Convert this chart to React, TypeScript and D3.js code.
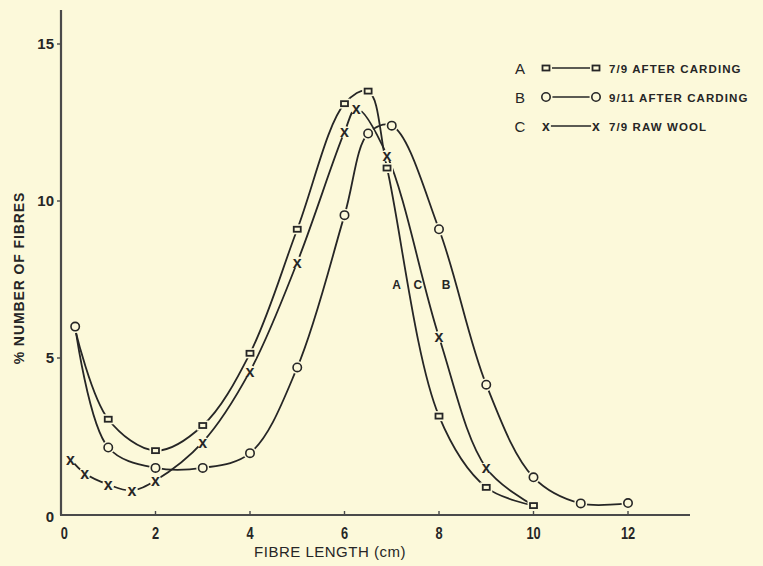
import React, { useEffect, useRef } from 'react';
import * as d3 from 'd3';

// A: 7/9 after carding (squares)
const aX = [0.3, 1, 2, 3, 4, 5, 6, 6.5, 6.9, 8, 9, 10];
const aY = [5.9, 3.05, 2.05, 2.85, 5.15, 9.1, 13.1, 13.5, 11.05, 3.15, 0.88, 0.3];
const aMark = [false, true, true, true, true, true, true, true, true, true, true, true];

// B: 9/11 after carding (circles)
const bX = [0.3, 1, 2, 3, 4, 5, 6, 6.5, 7, 8, 9, 10, 11, 12];
const bY = [6.0, 2.15, 1.5, 1.5, 1.97, 4.7, 9.55, 12.15, 12.4, 9.1, 4.15, 1.2, 0.37, 0.38];

// C: 7/9 raw wool (crosses)
const cX = [0.2, 0.5, 1, 1.5, 2, 3, 4, 5, 6, 6.25, 6.9, 8, 9, 10];
const cY = [1.78, 1.33, 0.97, 0.78, 1.1, 2.32, 4.58, 8.05, 12.2, 12.95, 11.45, 5.67, 1.5, 0.3];
const cMark = [true, true, true, true, true, true, true, true, true, true, true, true, true, false];

const xTicks = [0, 2, 4, 6, 8, 10, 12];
const yTicks = [0, 5, 10, 15];

const legendKeys = ['A', 'B', 'C'];
const legendLabels = ['7/9 AFTER CARDING', '9/11 AFTER CARDING', '7/9 RAW WOOL'];
const legendMarks = ['square', 'circle', 'cross'];

const curveLetters = ['A', 'C', 'B'];
const curveLetterX = [7.1, 7.55, 8.15];
const curveLetterY = [7.2, 7.2, 7.2];

const BG = '#fcf9da';
const INK = '#262626';

export default function App() {
  const ref = useRef<SVGSVGElement>(null);

  useEffect(() => {
    const svg = d3.select(ref.current);
    svg.selectAll('*').remove();

    const x = d3.scaleLinear().domain([0, 12]).range([61, 628]);
    const y = d3.scaleLinear().domain([0, 15]).range([515, 44]);

    svg.append('rect').attr('width', 763).attr('height', 566).attr('fill', BG);

    // axes
    svg.append('line')
      .attr('x1', x(0)).attr('x2', x(0)).attr('y1', 10).attr('y2', y(0))
      .attr('stroke', '#4a4a4a').attr('stroke-width', 2.2);
    svg.append('line')
      .attr('x1', x(0) - 1).attr('x2', 690).attr('y1', y(0)).attr('y2', y(0))
      .attr('stroke', '#4a4a4a').attr('stroke-width', 2.2);

    svg.selectAll('.xt').data(xTicks.slice(1)).enter().append('line')
      .attr('x1', d => x(d)).attr('x2', d => x(d))
      .attr('y1', y(0)).attr('y2', y(0) - 4)
      .attr('stroke', '#4a4a4a').attr('stroke-width', 1.4);
    svg.selectAll('.yt').data(yTicks.slice(1)).enter().append('line')
      .attr('x1', x(0)).attr('x2', x(0) - 4)
      .attr('y1', d => y(d)).attr('y2', d => y(d))
      .attr('stroke', '#4a4a4a').attr('stroke-width', 1.4);

    const tickFont = "'Liberation Sans', Arial, sans-serif";
    svg.selectAll('.xl').data(xTicks).enter().append('text')
      .attr('x', d => x(d) + (d === 0 ? 4 : 0)).attr('y', 539)
      .attr('text-anchor', 'middle')
      .attr('font-family', tickFont).attr('font-size', 16).attr('font-weight', 'bold')
      .attr('fill', INK)
      .attr('transform', d => `translate(${x(d)},0) scale(0.8,1) translate(${-x(d)},0)`)
      .text(d => d);
    svg.selectAll('.yl').data(yTicks).enter().append('text')
      .attr('x', 54).attr('y', d => y(d) + 5 + (d === 0 ? 2 : 0))
      .attr('text-anchor', 'end')
      .attr('font-family', tickFont).attr('font-size', 15).attr('font-weight', 'bold')
      .attr('fill', INK)
      .text(d => d);

    svg.append('text')
      .attr('x', 330).attr('y', 557).attr('text-anchor', 'middle')
      .attr('font-family', tickFont).attr('font-size', 15)
      .attr('fill', INK).attr('letter-spacing', 0.5)
      .text('FIBRE  LENGTH  (cm)');

    svg.append('text')
      .attr('transform', 'translate(24,278) rotate(-90)')
      .attr('text-anchor', 'middle')
      .attr('font-family', tickFont).attr('font-size', 14).attr('font-weight', 'bold')
      .attr('fill', INK).attr('letter-spacing', 0.9)
      .text('% NUMBER OF FIBRES');

    const line = d3.line<[number, number]>()
      .x(d => x(d[0])).y(d => y(d[1]))
      .curve(d3.curveCatmullRom.alpha(0.5));

    const series = [
      { xs: aX, ys: aY, type: 'square', marks: aMark },
      { xs: bX, ys: bY, type: 'circle', marks: bX.map(() => true) },
      { xs: cX, ys: cY, type: 'cross', marks: cMark },
    ];

    series.forEach(s => {
      const pts = s.xs.map((v, i) => [v, s.ys[i]] as [number, number]);
      svg.append('path').datum(pts)
        .attr('d', line)
        .attr('fill', 'none').attr('stroke', INK).attr('stroke-width', 1.8);
    });

    const drawMark = (g: d3.Selection<SVGGElement, unknown, null, undefined>, type: string, cx: number, cy: number, big = true) => {
      if (type === 'square') {
        g.append('rect').attr('x', cx - 6).attr('y', cy - 5).attr('width', 12).attr('height', 10).attr('fill', BG);
        g.append('rect').attr('x', cx - 3.5).attr('y', cy - 2.5).attr('width', 7).attr('height', 5)
          .attr('fill', BG).attr('stroke', INK).attr('stroke-width', 1.8);
      } else if (type === 'circle') {
        g.append('circle').attr('cx', cx).attr('cy', cy).attr('r', 6.5).attr('fill', BG);
        g.append('circle').attr('cx', cx).attr('cy', cy).attr('r', 4.2)
          .attr('fill', BG).attr('stroke', INK).attr('stroke-width', 1.6);
      } else {
        g.append('circle').attr('cx', cx).attr('cy', cy).attr('r', big ? 6 : 5).attr('fill', BG);
        g.append('text').attr('x', cx).attr('y', cy + (big ? 5.5 : 5))
          .attr('text-anchor', 'middle')
          .attr('font-family', tickFont).attr('font-size', big ? 16 : 14).attr('font-weight', 'bold')
          .attr('fill', INK).text('x');
      }
    };

    const marks = svg.append('g') as d3.Selection<SVGGElement, unknown, null, undefined>;
    series.forEach(s => {
      s.xs.forEach((v, i) => {
        if (s.marks[i]) drawMark(marks, s.type, x(v), y(s.ys[i]));
      });
    });

    // letters on the descending curves
    curveLetters.forEach((t, i) => {
      svg.append('text')
        .attr('x', x(curveLetterX[i])).attr('y', y(curveLetterY[i]))
        .attr('text-anchor', 'middle')
        .attr('font-family', tickFont).attr('font-size', 12).attr('font-weight', 'bold')
        .attr('fill', INK).text(t);
    });

    // legend
    const legend = svg.append('g') as d3.Selection<SVGGElement, unknown, null, undefined>;
    legendKeys.forEach((k, i) => {
      const ly = 68 + i * 29;
      legend.append('text').attr('x', 520).attr('y', ly + 6)
        .attr('text-anchor', 'middle')
        .attr('font-family', tickFont).attr('font-size', 15)
        .attr('fill', INK).text(k);
      legend.append('line').attr('x1', 545).attr('x2', 597).attr('y1', ly).attr('y2', ly)
        .attr('stroke', INK).attr('stroke-width', 1.6);
      drawMark(legend, legendMarks[i], 546, ly, false);
      drawMark(legend, legendMarks[i], 596, ly, false);
      legend.append('text').attr('x', 609).attr('y', ly + 5)
        .attr('font-family', tickFont).attr('font-size', 11.5).attr('font-weight', 'bold')
        .attr('letter-spacing', 1.1)
        .attr('fill', INK).text(legendLabels[i]);
    });
  }, []);

  return (
    <svg ref={ref} width={763} height={566} style={{ position: 'absolute', left: 0, top: 0, display: 'block' }} />
  );
}
